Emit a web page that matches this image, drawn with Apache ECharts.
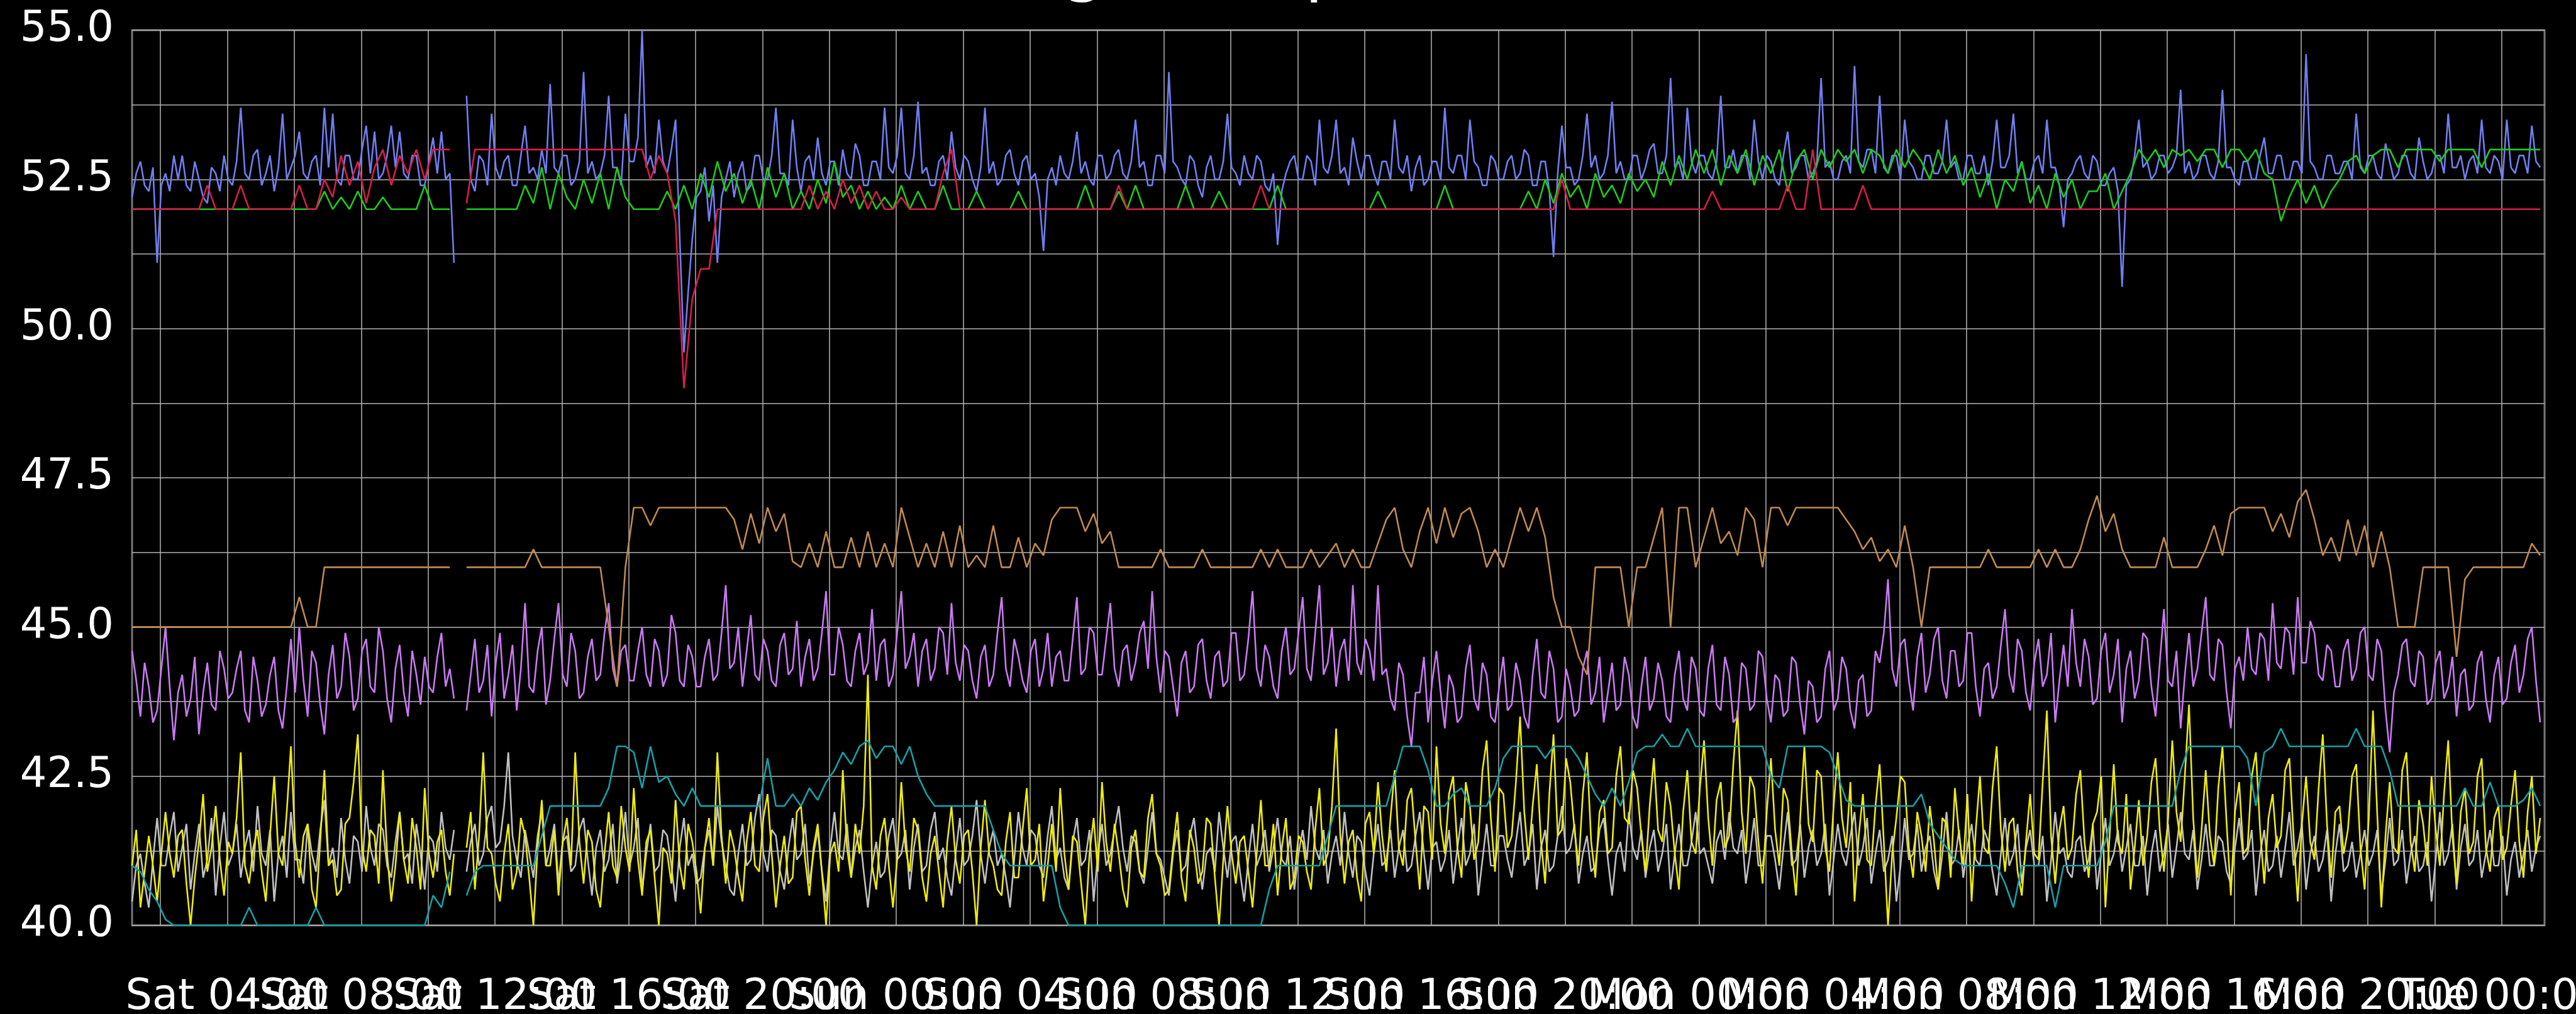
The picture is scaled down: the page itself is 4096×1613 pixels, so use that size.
<!DOCTYPE html>
<html><head><meta charset="utf-8">
<script src="https://cdn.jsdelivr.net/npm/echarts@6/dist/echarts.min.js"></script>
<style>html,body{margin:0;padding:0;background:#000;}#chart{width:4096px;height:1613px;}</style>
</head><body><div id="chart"></div>
<script>
// ---- text / ticks ----
const titleText = 'Average Temperature';
const dayNames = ['Sat', 'Sun', 'Mon', 'Tue'];
const xMin = 1.15, xMax = 73.28; // hours since Sat 00:00
const xGridHours = [2,4,6,8,10,12,14,16,18,20,22,24,26,28,30,32,34,36,38,40,42,44,46,48,50,52,54,56,58,60,62,64,66,68,70,72];
const xLabelHours = [4,8,12,16,20,24,28,32,36,40,44,48,52,56,60,64,68,72];
const yLabelValues = [40, 42.5, 45, 47.5, 50, 52.5, 55];
// samples: hours since Sat 00:00, starting Sat 01:09
const startHour = 1.15;
const stepSparse = 0.25;   // 15 min (step-like series)
const stepDense = 0.125;   // 7.5 min (noisy series)

// ---- step-like series (15 min) ----
const teal = [41.0,40.9,40.6,40.4,
40.1,40,40,40,40,40,40,40,
40,40,40.3,40,40,40,40,40,
40,40,40.3,40,40,40,40,40,
40,40,40,40,40,40,40,40,
40.5,40.3,40.9,null,40.5,40.9,41,41,
41,41,41,41,41,41.5,42,42,
42,42,42,42,42,42.3,43,43,
42.9,42.3,43,42.4,42.5,42.2,42,42.3,
42,42,42,42,42,42,42,42,
42.8,42,42,42.2,42,42.3,42.1,42.4,
42.6,42.9,42.7,43,43.1,42.8,43,43,
42.7,43,42.5,42.2,42,42,42,42,
42,42,42,41.6,41.2,41,41,41,
41,41,41,40.3,40,40,40,40,
40,40,40,40,40,40,40,40,
40,40,40,40,40,40,40,40,
40,40,40,40,40.6,41,41,41,
41,41,41,41.5,42,42,42,42,
42,42,42,42.5,43,43,43,42.6,
42,42,42.2,42.3,42,42,42,42.3,
42.8,43,43,43,43,42.8,43,43,
43,42.8,42.5,42.2,42,42.3,42,42.4,
42.9,43,43,43.2,43,43,43.3,43,
43,43,43,43,43,43,43,43,
42.5,42.3,43,43,43,43,43,42.9,
42.5,42.1,42,42,42,42,42,42,
42,42,42.2,41.7,41.5,41.3,41.1,41,
41,41,41,41,40.7,40.3,41,41,
41,41,40.3,41,41,41,41,41,
41.4,42,42,42,42,42,42,42,
42,42.6,43,43,43,43,43,43,
43,42.8,42,42.9,43,43.3,43,43,
43,43,43,43,43,43,43.3,43,
43,43,42.6,42,42,42,42,42,
42,42,42,42.3,42,42,42.4,42,
42,42,42.1,42.3,42];

const red = [52,52,52,52,
52,52,52,52,52,52.4,52,52,
52,52.4,52,52,52,52,52,52,
52.4,52,52,52.5,52.2,52.9,52.4,52.8,
52.1,52.7,53,52.4,52.9,52.6,53,52.5,
53,53,53,null,52.1,53,53,53,
53,53,53,53,53,53,53,53,
53,53,53,53,53,53,53,53,
53,53,52.5,52.9,52.6,51.8,49,50.5,
51,51,52,52,52,52,52,52,
52,52,52,52,52,52.4,52,52.3,
52,52.5,52.1,52.4,52,52.3,52,52,
52.2,52,52,52,52,52.6,53,52,
52,52,52,52,52,52,52,52,
52,52,52,52,52,52,52,52,
52,52,52.4,52,52,52,52,52,
52,52,52,52,52,52,52,52,
52,52,52,52.4,52,52,52,52,
52,52,52,52,52,52,52,52,
52,52,52,52,52,52,52,52,
52,52,52,52,52,52,52,52,
52,52,52,52,52,52,52,52.5,
52,52,52,52,52,52,52,52,
52,52,52,52,52,52,52,52,
52,52.3,52,52,52,52,52,52,
52,52,52.4,52,52,53,52,52,
52,52,52,52.4,52,52,52,52,
52,52,52,52,52,52,52,52,
52,52,52,52,52,52,52,52,
52,52,52,52,52,52,52,52,
52,52,52,52,52,52,52,52,
52,52,52,52,52,52,52,52,
52,52,52,52,52,52,52,52,
52,52,52,52,52,52,52,52,
52,52,52,52,52,52,52,52,
52,52,52,52,52,52,52,52,
52,52,52,52,52];

const green = [52,52,52,52,
52,52,52,52,52,52,52,52,
52,52,52,52,52,52,52,52,
52,52,52,52.3,52,52.2,52,52.3,
52,52,52.2,52,52,52,52,52.4,
52,52,52,null,52,52,52,52,
52,52,52,52.4,52.1,52.7,52,52.6,
52.2,52,52.5,52.1,52.6,52,52.7,52.2,
52,52,52,52,52.3,52,52.4,52,
52.6,52.2,52.8,52.3,52.6,52.1,52.5,52,
52.7,52.2,52.6,52,52.3,52,52.5,52.1,
52.8,52.2,52.4,52,52.3,52,52.2,52,
52.4,52,52.3,52,52,52.4,52,52,
52,52.3,52,52,52,52,52.3,52,
52,52,52,52,52,52,52.4,52,
52,52,52.3,52,52.4,52,52,52,
52,52,52.4,52,52,52,52.3,52,
52,52,52,52,52,52.4,52,52,
52,52,52,52,52,52,52,52,
52,52.3,52,52,52,52,52,52,
52,52.4,52,52,52,52,52,52,
52,52,52,52.3,52,52.5,52.1,52.6,
52.2,52.4,52,52.6,52.2,52.4,52.1,52.6,
52.3,52.5,52.2,52.8,52.4,52.9,52.5,53,
52.6,53,52.4,52.9,52.6,53,52.4,52.9,
52.6,53,52.3,52.8,53,52.5,53,52.7,
53,52.8,53,52.6,53,52.9,52.6,53,
52.7,53,52.8,52.5,53,52.6,52.9,52.4,
52.7,52.2,52.6,52,52.5,52.3,52.8,52.1,
52.4,52,52.6,52.2,52.5,52,52.3,52.3,
52.6,52,52.3,52.6,53,52.8,53,52.7,
53,52.9,53,52.8,53,53,52.7,53,
53,52.8,53,52.6,52.5,51.8,52.2,52.5,
52.1,52.4,52,52.3,52.5,52.8,52.9,52.6,
52.9,53,53,52.7,53,53,53,53,
52.8,53,53,53,53,52.7,53,53,
53,53,53,53,53];

const brown = [45,45,45,45,
45,45,45,45,45,45,45,45,
45,45,45,45,45,45,45,45,
45.5,45,45,46,46,46,46,46,
46,46,46,46,46,46,46,46,
46,46,46,null,46,46,46,46,
46,46,46,46,46.3,46,46,46,
46,46,46,46,46,45,44,46,
47,47,46.7,47,47,47,47,47,
47,47,47,47,46.8,46.3,46.9,46.4,
47,46.6,46.9,46.1,46,46.4,46,46.6,
46,46,46.5,46,46.6,46,46.4,46,
47,46.5,46,46.4,46,46.6,46,46.7,
46,46.2,46,46.7,46,46,46.5,46,
46.4,46.2,46.8,47,47,47,46.6,46.9,
46.4,46.6,46,46,46,46,46,46.3,
46,46,46,46,46.3,46,46,46,
46,46,46,46.3,46,46.3,46,46,
46,46.3,46,46.2,46.4,46,46.3,46,
46,46.4,46.8,47,46.3,46,46.6,47,
46.4,47,46.5,46.9,47,46.6,46,46.3,
46,46.5,47,46.6,47,46.5,45.5,45,
45,44.5,44.2,46,46,46,46,45,
46,46,46.5,47,45,47,47,46,
46.5,47,46.4,46.6,46.2,47,46.8,46,
47,47,46.7,47,47,47,47,47,
47,46.8,46.6,46.3,46.5,46.1,46.3,46,
46.7,46,45,46,46,46,46,46,
46,46,46.3,46,46,46,46,46,
46.3,46,46.3,46,46,46.3,46.8,47.2,
46.6,46.9,46.3,46,46,46,46,46.5,
46,46,46,46,46.3,46.7,46.2,46.9,
47,47,47,47,46.6,46.9,46.5,47.1,
47.3,46.8,46.2,46.5,46.1,46.8,46.2,46.7,
46,46.6,46,45,45,45,46,46,
46,46,44.5,45.8,46,46,46,46,
46,46,46,46.4,46.2];

// ---- noisy series (7.5 min) ----
const blue = [52.2,52.6,52.8,52.4,52.3,52.7,51.1,52.4,
52.6,52.3,52.9,52.5,52.9,52.4,52.3,52.8,52.5,52.2,52.1,52.7,52.6,52.3,52.9,52.5,
52.4,52.8,53.7,52.6,52.5,52.9,53.0,52.4,52.6,52.9,52.3,52.7,53.6,52.5,52.7,52.9,
53.3,52.6,52.5,52.8,52.9,52.4,53.7,52.7,53.6,52.5,52.4,52.9,52.9,52.5,52.5,53.0,
53.4,52.6,53.3,52.5,52.6,52.9,53.4,52.7,53.3,52.6,52.5,52.9,52.9,52.4,52.4,52.8,
53.2,52.6,53.3,52.5,52.6,51.1,null,null,53.9,52.5,52.3,52.9,52.8,52.4,53.6,52.7,
52.5,52.8,52.9,52.4,52.4,52.9,53.4,52.6,52.7,52.5,53.0,52.6,54.1,52.7,52.6,52.9,
52.9,52.4,52.5,52.8,54.3,52.6,52.8,52.5,52.6,52.9,53.9,52.7,52.7,52.4,53.6,52.8,
52.8,53.2,55.0,52.7,52.9,52.6,53.5,52.8,52.6,53.0,53.5,51.5,49.6,50.6,51.5,52.2,
52.3,52.7,51.8,52.4,51.1,52.2,52.5,52.8,52.2,52.6,52.8,52.3,52.4,52.9,52.9,52.5,
52.5,52.9,53.7,52.6,52.6,52.4,53.5,52.7,52.3,52.8,52.9,52.5,53.2,52.6,52.4,52.8,
52.8,52.4,53.0,52.6,52.5,53.1,52.9,52.4,52.4,52.8,52.8,52.5,53.7,52.7,52.6,52.9,
53.7,52.6,52.5,52.9,53.8,52.6,52.7,52.4,52.4,52.8,52.9,52.5,53.3,52.7,52.5,52.9,
52.8,52.5,52.3,52.7,53.7,52.6,52.8,52.4,52.5,52.9,53.0,52.6,52.4,52.8,52.9,52.5,
52.6,52.2,51.3,52.5,52.7,52.4,52.9,52.6,52.5,52.8,53.3,52.6,52.8,52.5,52.4,52.9,
52.9,52.5,52.6,52.9,53.0,52.6,52.5,52.8,53.5,52.7,52.8,52.4,52.4,52.9,52.9,52.6,
54.3,52.8,52.7,52.5,52.4,52.9,52.8,52.4,52.2,52.7,52.9,52.5,52.5,52.8,53.6,52.7,
52.6,52.4,52.9,52.6,52.5,52.9,52.8,52.4,52.3,52.6,51.4,52.3,52.6,52.8,52.9,52.5,
52.5,52.9,52.8,52.4,53.5,52.7,52.6,52.9,53.5,52.6,52.7,52.4,53.2,52.8,52.5,52.9,
52.9,52.6,52.4,52.8,52.8,52.5,53.5,52.7,52.6,52.9,52.3,52.7,52.9,52.4,52.5,52.8,
52.8,52.5,53.7,52.7,52.6,52.9,52.9,52.5,53.5,52.8,52.7,52.4,52.4,52.9,52.8,52.5,
52.5,52.8,52.9,52.5,52.6,53.0,52.9,52.4,52.4,52.8,52.8,52.3,51.2,52.6,53.4,52.7,
52.7,52.4,52.5,52.9,53.6,52.7,52.9,52.5,52.6,52.9,53.8,52.6,52.8,52.5,52.5,52.9,
52.9,52.5,52.7,53.0,53.1,52.6,52.6,52.9,54.2,52.7,52.8,52.5,53.7,52.8,52.6,52.9,
52.9,52.6,52.5,52.8,53.9,52.7,52.7,53.0,52.6,52.9,52.9,52.5,53.5,52.8,52.5,52.9,
52.8,52.5,52.4,52.9,53.3,52.6,52.7,52.9,52.9,52.5,52.6,52.8,54.2,52.7,52.8,52.5,
52.5,52.8,52.9,52.6,54.4,52.8,52.7,53.0,53.0,52.6,53.9,52.7,52.6,52.9,52.9,52.5,
53.5,52.8,52.7,52.5,52.5,52.9,52.9,52.6,52.6,52.8,53.5,52.7,52.8,52.5,52.5,52.9,
52.9,52.6,52.6,52.9,52.4,52.8,53.5,52.7,52.7,52.9,53.6,52.6,52.8,52.5,52.5,52.8,
52.9,52.6,53.5,52.7,52.7,52.4,51.7,52.5,52.6,52.8,52.9,52.6,52.5,52.9,52.8,52.4,
52.4,52.6,52.7,52.3,50.7,52.4,52.5,52.9,53.5,52.7,52.8,52.5,52.6,52.9,52.9,52.6,
52.7,52.9,54.0,52.6,52.8,52.5,52.6,52.9,52.9,52.6,52.5,52.8,54.0,52.7,52.7,52.5,
52.4,52.8,52.8,52.5,52.5,52.9,53.2,52.6,52.6,52.9,52.9,52.5,52.5,52.8,52.8,52.6,
54.6,52.8,52.7,52.5,52.5,52.9,52.9,52.6,52.6,52.8,52.8,52.5,53.6,52.7,52.6,52.9,
52.9,52.6,52.5,53.1,52.8,52.5,52.6,52.9,52.9,52.6,52.5,53.2,52.8,52.5,52.6,52.9,
52.9,52.6,53.6,52.7,52.7,52.9,52.5,52.8,52.9,52.6,53.5,52.7,52.6,52.9,52.8,52.5,
53.5,52.7,52.6,52.9,52.9,52.6,53.4,52.8,52.7];

const purple = [44.6,44.1,43.5,44.4,44.0,43.4,43.6,44.3,
45.0,44.0,43.1,43.9,44.2,43.5,43.8,44.5,43.2,43.9,44.4,43.7,43.6,44.6,44.3,43.8,
43.9,44.3,44.6,43.6,43.4,44.5,44.1,43.5,43.7,44.2,44.5,43.6,43.3,44.0,44.8,43.9,
45.0,44.1,43.5,44.6,44.4,43.7,43.2,44.2,44.7,43.8,44.0,44.9,44.5,43.6,43.8,44.6,
44.8,44.0,43.9,45.0,44.6,43.8,43.4,44.3,44.7,43.9,43.5,44.6,44.2,43.7,44.5,44.0,
43.9,44.5,44.9,44.0,44.3,43.8,null,null,43.6,44.2,44.8,43.9,44.1,44.7,43.5,44.4,
44.9,43.8,44.2,44.7,43.6,44.3,45.4,44.0,43.9,44.6,45.0,43.7,44.1,44.8,45.4,44.2,
44.0,44.9,44.6,43.8,43.9,44.5,44.8,44.1,44.2,44.9,45.4,44.3,44.0,44.6,44.7,44.1,
44.1,44.6,45.0,44.2,44.0,44.8,44.6,44.0,44.2,45.2,44.9,44.1,44.0,44.7,44.5,44.0,
44.0,44.5,44.8,44.1,44.2,44.9,45.7,44.3,44.4,45.0,44.0,44.6,45.2,44.2,44.1,44.8,
44.6,44.1,44.0,44.7,44.9,44.2,44.3,45.1,44.0,44.5,44.8,44.1,44.3,44.9,45.6,44.2,
44.2,45.0,44.7,44.1,44.0,44.6,44.9,44.2,44.4,45.3,44.1,44.7,44.8,44.0,44.2,44.9,
45.6,44.3,44.5,44.9,44.0,44.6,44.8,44.1,44.3,45.0,44.9,44.2,45.4,44.4,44.1,44.7,
44.6,44.1,43.8,44.5,44.7,44.0,44.2,44.9,45.5,44.3,44.0,44.8,44.5,44.1,43.9,44.6,
44.8,44.0,44.3,44.9,44.0,44.5,44.6,44.1,44.1,44.8,45.5,44.2,44.3,45.0,44.9,44.2,
44.2,44.8,45.4,44.3,44.0,44.6,44.7,44.1,44.4,44.9,45.1,44.3,45.6,44.5,43.9,44.6,
44.5,44.0,43.5,44.4,44.6,43.9,44.0,44.7,44.8,44.1,43.8,44.5,44.6,44.0,44.1,44.9,
44.9,44.1,44.2,44.8,45.6,44.3,44.0,44.7,44.5,44.0,43.8,44.6,45.0,44.2,44.3,44.9,
45.5,44.3,44.1,44.9,45.7,44.2,44.4,45.0,44.0,44.6,44.8,44.1,45.7,44.4,44.2,44.8,
44.6,44.1,45.7,44.2,44.3,43.8,43.6,44.4,44.2,43.5,43.0,43.9,43.9,44.5,43.4,44.1,
44.6,43.9,43.3,44.2,44.0,43.4,43.5,44.3,44.7,43.8,43.6,44.4,44.2,43.5,43.4,44.0,
44.5,43.6,43.7,44.4,44.1,43.5,43.3,44.2,44.8,43.9,43.8,44.6,44.3,43.4,43.5,44.3,
44.0,43.5,43.6,44.3,44.6,43.7,43.9,44.5,43.4,43.9,44.4,43.6,43.7,44.5,44.2,43.5,
43.3,44.0,44.5,43.6,43.8,44.4,44.1,43.5,43.4,44.2,44.6,43.8,43.6,44.5,44.3,43.6,
43.5,44.3,44.7,43.7,43.6,44.5,44.2,43.4,43.5,44.4,44.3,43.6,43.7,44.6,44.5,43.8,
43.4,44.2,44.1,43.5,43.6,44.5,44.4,43.7,43.2,44.1,44.0,43.4,43.5,44.3,44.6,43.6,
43.8,44.5,44.3,43.6,43.3,44.1,44.2,43.5,43.6,44.6,44.4,44.9,45.8,44.3,44.0,44.7,
44.8,44.1,43.6,44.5,44.9,43.9,44.2,44.8,45.0,44.1,43.8,44.6,44.6,44.0,44.1,44.9,
44.9,44.0,43.5,44.3,44.4,43.8,44.0,44.7,45.3,44.2,43.9,44.8,44.6,43.9,43.6,44.4,
44.8,44.0,44.2,44.9,43.4,44.1,44.7,44.0,45.3,44.4,44.0,44.8,44.5,43.7,43.8,44.6,
44.9,43.9,44.2,44.8,43.4,44.3,44.6,43.8,44.1,44.9,44.8,44.0,43.5,44.4,45.3,44.1,
44.0,44.6,43.3,44.2,44.9,44.0,44.3,44.9,45.5,44.2,44.1,44.8,44.7,43.9,43.3,44.3,
44.5,44.1,45.0,44.3,44.2,44.9,44.8,44.1,45.4,44.4,44.3,45.0,44.9,44.2,45.5,44.4,
44.4,45.1,44.9,44.2,44.1,44.7,44.6,44.0,44.0,44.6,44.8,44.1,44.3,44.9,45.0,44.2,
44.1,44.8,44.6,43.6,42.9,43.9,44.2,44.7,44.8,44.1,44.0,44.6,44.5,43.7,43.8,44.4,
44.6,43.8,44.0,44.5,43.5,44.2,44.3,43.6,43.7,44.4,44.6,43.8,43.4,44.2,44.5,43.7,
43.8,44.4,44.7,43.9,44.2,44.8,45.0,44.1,43.4];

const yellow = [41.0,41.6,40.3,40.9,41.5,41.0,40.4,41.2,
41.9,41.2,40.8,41.5,41.6,40.7,40.0,40.8,41.4,42.2,40.9,41.3,42.0,41.1,40.5,41.4,
41.2,41.8,42.9,41.0,40.7,41.3,41.6,40.9,40.4,41.5,42.5,41.2,41.0,41.9,43.0,41.4,
40.8,41.5,41.7,40.6,40.3,41.4,42.6,41.0,41.1,40.5,40.6,41.7,41.8,42.4,43.2,41.3,
40.9,41.6,41.5,40.7,42.6,41.2,40.4,41.0,41.9,41.1,40.7,41.8,41.3,40.6,42.3,41.2,
40.8,41.4,41.6,40.9,40.5,41.2,null,null,41.3,41.9,40.6,41.5,42.9,41.3,41.2,40.7,
40.4,41.2,41.7,40.6,40.9,41.8,41.5,40.8,40.0,41.3,42.1,41.0,41.0,41.6,40.5,41.4,
41.8,41.0,42.9,41.4,40.7,41.6,41.4,40.6,40.3,41.2,41.9,41.0,40.8,42.0,41.3,40.9,
42.3,41.1,40.5,41.4,41.6,40.8,40.0,41.3,41.2,40.7,42.1,41.0,40.6,41.7,41.4,40.9,
40.2,41.3,41.8,41.0,42.9,41.5,40.7,41.6,41.3,40.8,40.4,41.4,41.9,41.0,40.9,41.8,
42.2,41.2,40.3,41.0,41.5,40.7,40.8,41.9,42.0,41.1,40.5,41.3,41.7,40.9,40.0,41.2,
41.4,40.9,42.6,41.3,40.8,41.7,41.2,42.0,44.2,41.0,40.6,41.5,41.8,41.0,40.3,41.1,
42.4,41.3,40.9,41.8,41.6,40.8,40.4,41.2,41.5,40.9,40.3,41.4,42.0,41.1,40.7,41.5,
41.6,40.9,40.0,41.3,42.1,41.2,41.0,40.6,40.5,41.4,41.9,40.8,40.8,41.6,42.3,41.0,
41.1,41.7,40.4,41.0,41.7,40.9,42.3,41.2,40.6,41.5,41.4,40.7,40.0,41.2,41.8,40.9,
42.4,41.4,40.9,41.7,41.2,40.6,40.3,41.3,41.6,40.9,40.8,41.8,42.2,41.2,41.0,40.5,
40.6,41.3,41.9,40.8,40.4,41.6,41.3,40.7,40.9,41.8,41.7,40.8,40.0,41.1,42.0,41.2,
40.7,41.4,41.5,40.9,40.3,41.2,42.1,41.0,41.0,41.7,40.5,41.3,41.8,40.6,40.8,41.5,
41.4,40.9,40.6,41.6,42.3,41.0,41.2,42.0,43.3,41.5,40.7,41.4,41.6,40.8,40.4,41.7,
41.9,41.2,42.4,41.5,40.9,41.8,42.6,41.3,41.0,42.1,42.3,41.4,40.6,42.0,41.9,41.1,
43.0,41.7,41.2,42.2,42.5,41.3,40.8,42.4,42.0,41.1,41.4,42.6,43.1,41.8,40.9,42.3,
42.2,41.3,41.5,42.4,43.5,41.9,41.1,42.0,42.7,41.4,40.7,42.2,43.2,41.5,41.6,42.8,
42.4,41.6,41.0,42.2,42.9,41.4,40.8,41.9,42.1,41.2,41.3,42.5,43.0,41.8,41.7,42.6,
42.3,41.5,40.9,42.0,42.8,41.6,41.4,42.4,42.0,41.2,40.6,41.9,42.6,41.4,41.2,42.3,
43.1,41.8,41.0,42.1,42.4,41.3,41.5,42.7,43.6,41.9,41.2,42.5,42.3,41.4,40.7,41.9,
42.8,41.6,41.0,42.3,42.1,41.2,40.5,41.8,43.0,41.7,41.4,42.6,42.5,41.3,40.9,42.0,
42.9,41.8,41.3,42.4,40.4,41.5,42.2,41.1,41.0,42.0,42.7,41.4,40.0,41.2,41.8,42.5,
42.4,41.3,40.8,41.9,41.5,40.9,42.0,41.4,40.6,41.8,41.7,40.8,42.3,41.5,41.0,42.2,
40.4,41.6,42.5,41.3,41.2,42.3,43.0,41.6,40.9,41.7,41.8,40.9,40.5,41.4,42.2,41.2,
41.1,42.4,43.6,41.5,40.7,41.6,42.0,41.1,41.3,42.2,42.6,41.4,40.8,41.7,41.9,42.5,
40.3,41.5,42.7,41.4,41.2,42.2,40.6,41.3,42.1,41.0,41.5,42.4,42.8,41.6,40.9,41.8,
43.1,41.9,41.4,42.5,43.7,41.8,40.8,41.6,42.6,41.5,41.0,42.3,43.0,41.7,40.5,41.9,
42.4,41.2,41.3,42.5,42.9,41.6,40.7,41.8,42.2,41.3,41.5,42.6,42.8,41.5,40.4,41.7,
42.5,41.4,41.1,42.3,43.2,41.7,40.8,41.9,42.0,41.2,41.6,42.5,42.7,41.3,40.6,41.8,
43.6,41.9,40.3,41.5,42.4,41.3,41.2,42.6,42.9,41.4,40.9,42.1,41.7,41.0,42.5,41.6,
41.0,42.2,43.1,41.5,40.7,41.9,42.3,41.2,41.4,42.5,42.8,41.3,40.9,41.8,42.0,41.1,
41.3,42.0,42.6,41.4,40.8,41.9,42.5,41.2,41.8];

const silver = [40.4,41.0,41.2,40.7,40.3,41.1,41.8,41.0,
41.0,41.5,41.9,40.9,41.3,41.7,40.6,41.2,41.7,40.8,41.1,41.8,40.5,41.3,41.9,41.0,
41.2,41.7,40.8,41.3,41.6,40.9,42.0,41.2,41.0,41.6,40.4,41.2,41.5,40.8,41.9,41.1,
41.1,40.7,41.7,41.2,40.9,41.6,42.1,41.0,41.3,40.8,41.8,41.1,40.7,41.5,41.4,40.9,
42.0,41.3,41.0,41.7,41.6,41.0,40.8,41.4,41.9,41.1,41.2,40.7,41.7,41.2,40.6,41.5,
41.4,40.9,41.9,41.3,41.1,41.6,null,null,40.9,41.4,41.7,41.0,41.2,41.8,42.0,41.3,
41.4,42.0,42.9,41.5,41.1,40.8,41.6,41.2,40.8,41.5,41.9,41.0,41.3,41.7,40.7,41.4,
41.5,40.9,41.0,41.6,41.8,41.1,40.5,41.3,41.6,40.9,41.1,41.7,40.7,41.2,41.9,41.0,
41.3,41.8,40.6,41.2,41.7,40.9,41.0,41.6,41.5,41.0,40.4,41.3,41.8,41.0,41.2,40.7,
40.8,41.3,41.6,41.0,42.0,41.4,41.0,40.6,40.5,41.2,41.7,41.0,41.1,41.8,42.2,41.2,
40.9,41.6,41.5,40.9,40.6,41.3,41.8,41.1,41.2,41.7,40.7,41.2,41.6,40.9,40.4,41.3,
41.9,41.2,41.1,41.7,40.8,41.3,41.6,40.9,40.3,41.0,41.4,40.8,40.9,41.5,41.8,41.1,
41.2,41.6,40.6,41.3,41.7,40.9,41.0,41.6,41.9,41.1,41.3,40.8,40.5,41.2,41.8,41.0,
41.1,41.5,42.1,41.2,40.7,41.3,41.6,41.0,41.2,40.8,40.3,41.1,41.9,41.3,41.0,41.6,
41.5,41.0,40.8,41.5,42.0,41.1,41.3,40.8,40.6,41.4,41.8,41.0,41.1,41.6,40.4,41.2,
41.7,41.0,41.2,41.6,42.0,41.3,40.9,41.5,41.4,40.9,40.7,41.3,41.9,41.2,41.1,40.8,
40.5,41.2,41.6,40.9,41.0,41.5,41.8,41.1,40.6,41.2,41.3,40.9,41.9,41.3,40.8,41.4,
41.5,40.9,40.4,41.1,41.7,41.0,41.2,41.6,40.9,41.3,41.8,41.1,41.0,41.5,40.6,41.2,
41.6,41.1,42.0,41.3,41.1,41.6,40.7,41.2,41.5,41.0,41.9,41.2,40.8,41.5,41.4,40.9,
40.5,41.2,41.7,41.0,41.1,41.6,40.8,41.3,41.6,40.9,41.0,41.5,41.9,41.2,40.6,41.3,
41.4,40.9,41.1,41.6,40.7,41.3,41.8,41.0,41.2,41.7,40.5,41.1,41.7,41.0,41.0,41.5,
41.5,41.1,40.8,41.4,41.9,41.0,41.2,41.7,40.6,41.3,41.6,40.9,41.0,41.5,42.0,41.2,
41.3,41.7,40.7,41.2,41.5,40.9,41.0,41.6,41.8,41.1,40.5,41.2,41.4,40.9,41.9,41.3,
41.1,41.6,40.8,41.3,41.6,40.9,41.2,41.7,40.6,41.2,41.7,41.0,41.0,41.4,41.9,41.2,
41.3,41.0,40.7,41.4,41.6,41.1,41.9,41.3,41.2,41.6,40.7,41.2,41.8,41.0,41.0,41.5,
41.5,41.1,40.6,41.3,41.9,41.0,41.1,41.7,40.8,41.3,41.6,41.0,41.2,41.7,40.5,41.1,
41.7,41.2,41.0,41.5,41.9,41.0,41.3,41.8,40.7,41.2,41.6,40.9,41.1,41.5,40.4,41.0,
41.8,41.1,41.2,41.7,40.9,41.3,41.5,40.9,40.6,41.2,41.9,41.0,41.1,41.6,40.8,41.3,
41.7,41.1,41.0,41.6,41.4,40.9,40.5,41.2,41.8,41.0,41.2,41.7,40.7,41.3,41.6,41.0,
41.0,41.5,40.4,41.1,41.9,41.2,41.3,40.9,40.8,41.4,41.5,40.9,41.1,41.7,40.6,41.2,
41.8,41.0,41.2,41.6,40.9,41.3,41.7,41.0,41.0,41.5,40.5,41.2,41.6,40.9,41.2,41.7,
40.8,41.3,41.9,41.2,41.1,41.6,40.6,41.1,41.7,41.0,41.0,41.5,41.4,40.9,40.7,41.3,
41.8,41.1,41.2,41.6,40.5,41.2,41.6,40.9,41.0,41.5,40.8,41.3,41.9,41.0,41.3,41.7,
40.6,41.2,41.5,40.9,41.1,41.6,40.4,41.2,41.7,40.9,41.0,41.4,40.8,41.2,41.6,41.0,
41.2,41.6,40.5,41.1,41.8,41.0,41.1,41.6,40.7,41.2,41.5,40.9,41.0,41.4,40.4,41.1,
41.9,41.0,41.2,41.7,40.6,41.3,41.7,41.0,41.1,41.6,40.8,41.2,41.6,41.0,41.0,41.5,
40.5,41.1,41.4,40.8,41.2,41.6,40.9,41.3,41.5];

// ---- chart ----
const FONT = 'DejaVu Sans';
function toPairs(arr, step) { return arr.map((v, i) => [startHour + i * step, v]); }
function pad2(n) { return (n < 10 ? '0' : '') + n; }
function lineSeries(name, color, arr, step) {
  return {
    name: name, type: 'line', data: toPairs(arr, step), showSymbol: false, symbol: 'none',
    lineStyle: { color: color, width: 2.6 }, itemStyle: { color: color },
    connectNulls: false, animation: false, emphasis: { disabled: true }
  };
}
// label positions: the real labels, plus empty end markers so that the
// axis' own min/max-label handling never removes a real label
const xLabelPositions = [xMin].concat(xLabelHours, [xMax]);

const chart = echarts.init(document.getElementById('chart'), null, { renderer: 'canvas' });
chart.setOption({
  backgroundColor: '#000',
  animation: false,
  title: {
    text: titleText, left: 1379, top: -104,
    textStyle: { color: '#fff', fontSize: 107, fontWeight: 'normal', fontFamily: FONT }
  },
  grid: {
    left: 210, right: 50, top: 48, bottom: 141, containLabel: false, outerBoundsMode: 'none',
    show: true, borderColor: '#777', borderWidth: 3, backgroundColor: 'transparent'
  },
  xAxis: {
    type: 'value', min: xMin, max: xMax,
    axisLine: { show: false },
    axisTick: { show: false, customValues: xGridHours },
    splitLine: { show: true, lineStyle: { color: '#b4b4b4', width: 1.5 } },
    axisLabel: {
      customValues: xLabelPositions, color: '#fff', fontSize: 67, fontFamily: FONT, margin: 82,
      showMinLabel: false, showMaxLabel: false, hideOverlap: false,
      formatter: function (v) {
        if (xLabelHours.indexOf(v) < 0) return '';
        return dayNames[Math.floor(v / 24)] + ' ' + pad2(v % 24) + ':00';
      }
    }
  },
  yAxis: {
    type: 'value', min: 40, max: 55, interval: 1.25,
    axisLine: { show: false }, axisTick: { show: false },
    splitLine: { show: true, lineStyle: { color: '#b4b4b4', width: 1.5 } },
    axisLabel: {
      color: '#fff', fontSize: 67, fontFamily: FONT, margin: 29,
      formatter: function (v) { return yLabelValues.indexOf(v) >= 0 ? v.toFixed(1) : ''; }
    }
  },
  series: [
    lineSeries('silver', '#c0c0c0', silver, stepDense),
    lineSeries('yellow', '#eeea10', yellow, stepDense),
    lineSeries('teal', '#14a0a8', teal, stepSparse),
    lineSeries('purple', '#c87af0', purple, stepDense),
    lineSeries('brown', '#c08a4e', brown, stepSparse),
    lineSeries('blue', '#707ef0', blue, stepDense),
    lineSeries('green', '#1ccc1c', green, stepSparse),
    lineSeries('red', '#d81e48', red, stepSparse)
  ]
});
</script></body></html>
